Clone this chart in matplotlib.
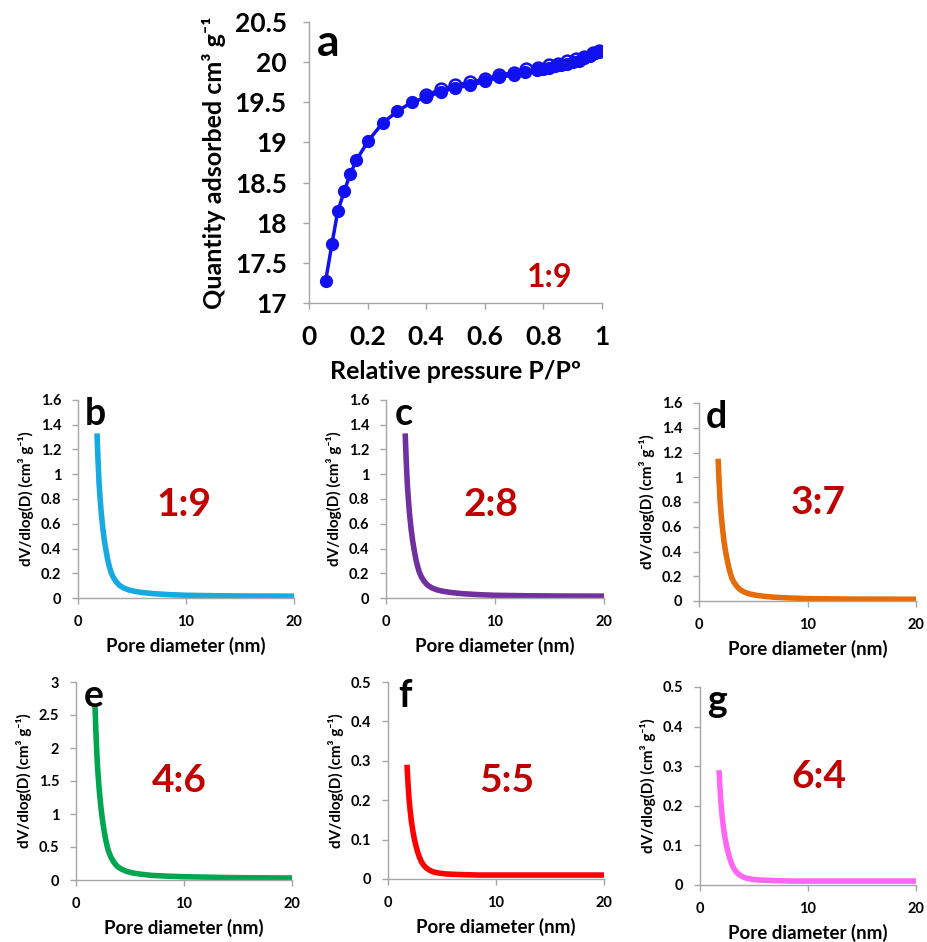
import matplotlib
matplotlib.use("Agg")
import matplotlib.pyplot as plt
from matplotlib.ticker import FuncFormatter

plt.rcParams['font.family'] = ['Lato', 'DejaVu Sans']
plt.rcParams['font.weight'] = 'bold'

W, H = 927, 942

# isotherm (panel a)
p_ads = [0.057, 0.078, 0.098, 0.121, 0.141, 0.162, 0.202, 0.251, 0.302, 0.351,
         0.399, 0.449, 0.499, 0.55, 0.6, 0.649, 0.698, 0.738, 0.778, 0.8,
         0.82, 0.84, 0.86, 0.88, 0.9, 0.92, 0.94, 0.96, 0.975, 0.989]
q_ads = [17.28, 17.73, 18.14, 18.40, 18.61, 18.78, 19.02, 19.24, 19.39, 19.50,
         19.56, 19.63, 19.68, 19.71, 19.76, 19.81, 19.84, 19.88, 19.90, 19.91,
         19.93, 19.95, 19.96, 19.98, 20.00, 20.02, 20.05, 20.08, 20.11, 20.13]
p_des = [0.40, 0.45, 0.50, 0.55, 0.60, 0.65, 0.70, 0.74, 0.78, 0.82,
         0.85, 0.88, 0.91, 0.94, 0.97, 0.989]
q_des = [19.59, 19.66, 19.71, 19.75, 19.79, 19.84, 19.87, 19.91, 19.93, 19.96,
         19.98, 20.01, 20.04, 20.07, 20.11, 20.14]

# pore size distributions (panels b-g)
diam = [1.76, 1.85, 1.95, 2.05, 2.15, 2.3, 2.45, 2.6, 2.75, 2.9, 3.05, 3.25,
        3.5, 3.8, 4.2, 4.7, 5.3, 6.0, 7.0, 8.5, 10.0, 13.0, 16.0, 20.0]
psd_b = [1.33, 1.12, 0.93, 0.80, 0.69, 0.56, 0.46, 0.38, 0.31, 0.255, 0.21, 0.17,
         0.135, 0.105, 0.082, 0.065, 0.053, 0.044, 0.035, 0.027, 0.022, 0.018, 0.016, 0.015]
psd_c = [1.33, 1.12, 0.93, 0.80, 0.69, 0.56, 0.46, 0.38, 0.31, 0.255, 0.21, 0.17,
         0.135, 0.105, 0.082, 0.065, 0.053, 0.044, 0.035, 0.027, 0.022, 0.018, 0.016, 0.015]
psd_d = [1.15, 0.97, 0.80, 0.69, 0.60, 0.485, 0.40, 0.33, 0.27, 0.22, 0.18, 0.147,
         0.117, 0.091, 0.071, 0.056, 0.046, 0.038, 0.030, 0.024, 0.019, 0.016, 0.015, 0.014]
psd_e = [2.63, 2.22, 1.84, 1.58, 1.37, 1.11, 0.91, 0.75, 0.61, 0.50, 0.42, 0.34,
         0.27, 0.21, 0.165, 0.13, 0.105, 0.088, 0.070, 0.058, 0.050, 0.040, 0.034, 0.030]
psd_f = [0.29, 0.244, 0.203, 0.174, 0.150, 0.122, 0.100, 0.083, 0.068, 0.056, 0.046, 0.037,
         0.029, 0.023, 0.018, 0.015, 0.013, 0.012, 0.011, 0.010, 0.010, 0.010, 0.010, 0.010]
psd_g = [0.29, 0.244, 0.203, 0.174, 0.150, 0.122, 0.100, 0.083, 0.068, 0.056, 0.046, 0.037,
         0.029, 0.023, 0.018, 0.015, 0.013, 0.012, 0.011, 0.010, 0.010, 0.010, 0.010, 0.010]

panels = [
    # letter, ratio, values, color, ymax, ystep, box (l, t, r, b), ratio pos
    ('b', '1:9', psd_b, '#17A9E1', 1.6, 0.2, (78, 400, 294, 598), (0.49, 0.47)),
    ('c', '2:8', psd_c, '#7030A0', 1.6, 0.2, (386, 400, 604, 598), (0.48, 0.47)),
    ('d', '3:7', psd_d, '#E46C0A', 1.6, 0.2, (699, 403, 916, 601), (0.55, 0.50)),
    ('e', '4:6', psd_e, '#00A64F', 3.0, 0.5, (76, 682, 292, 880), (0.48, 0.50)),
    ('f', '5:5', psd_f, '#FF0000', 0.5, 0.1, (388, 682, 604, 879), (0.55, 0.50)),
    ('g', '6:4', psd_g, '#FF66F2', 0.5, 0.1, (700, 687, 916, 885), (0.55, 0.55)),
]

RED = '#C00000'
AX_GRAY = '#A6A6A6'
fmt = FuncFormatter(lambda v, pos: '%g' % round(v, 3))


def add_box(fig, l, t, r, b):
    return fig.add_axes([l / W, 1 - b / H, (r - l) / W, (b - t) / H])


def style(ax, size, pad):
    for s in ['top', 'right']:
        ax.spines[s].set_visible(False)
    for s in ['left', 'bottom']:
        ax.spines[s].set_color(AX_GRAY)
        ax.spines[s].set_linewidth(1.0)
    ax.tick_params(direction='out', length=4, width=1, color=AX_GRAY,
                   labelsize=size, pad=pad)
    ax.xaxis.set_major_formatter(fmt)
    ax.yaxis.set_major_formatter(fmt)
    for lab in ax.get_xticklabels() + ax.get_yticklabels():
        lab.set_fontweight('bold')


fig = plt.figure(figsize=(W / 100, H / 100), dpi=100)

# panel a
ax = add_box(fig, 309, 22, 602, 303)
ax.plot(p_des, q_des, '-o', color='#1010F0', lw=2.5, ms=8.5,
        mfc='white', mec='#1010F0', mew=1.8)
ax.plot(p_ads, q_ads, '-o', color='#1010F0', lw=2.5, ms=8.5)
ax.set_xlim(0, 1)
ax.set_ylim(17, 20.5)
ax.set_xticks([0, 0.2, 0.4, 0.6, 0.8, 1.0])
ax.set_yticks([17, 17.5, 18, 18.5, 19, 19.5, 20, 20.5])
style(ax, 19, 12)
ax.set_xlabel('Relative pressure P/P\u00ba', fontsize=18, fontweight='bold', labelpad=8)
ax.set_ylabel('Quantity adsorbed cm\u00b3 g\u207b\u00b9', fontsize=18, fontweight='bold', labelpad=6)
ax.text(0.065, 0.925, 'a', transform=ax.transAxes, fontsize=32, fontweight='bold',
        ha='center', va='center')
ax.text(0.82, 0.09, '1:9', transform=ax.transAxes, fontsize=23, fontweight='bold',
        color=RED, ha='center', va='center')

for letter, ratio, vals, color, ymax, ystep, box, rpos in panels:
    ax = add_box(fig, *box)
    ax.plot(diam, vals, color=color, lw=4, solid_capstyle='butt', solid_joinstyle='round')
    ax.set_xlim(0, 20)
    ax.set_ylim(0, ymax)
    ax.set_xticks([0, 10, 20])
    n = int(round(ymax / ystep))
    ax.set_yticks([i * ystep for i in range(n + 1)])
    style(ax, 10.5, 8)
    ax.set_xlabel('Pore diameter (nm)', fontsize=13.5, fontweight='bold', labelpad=6)
    ax.set_ylabel('dV/dlog(D) (cm\u00b3 g\u207b\u00b9)', fontsize=11, fontweight='bold', labelpad=5)
    ax.text(0.08, 0.93, letter, transform=ax.transAxes, fontsize=27, fontweight='bold',
            ha='center', va='center')
    ax.text(rpos[0], rpos[1], ratio, transform=ax.transAxes, fontsize=28,
            fontweight='bold', color=RED, ha='center', va='center')

fig.savefig('out.png', dpi=100)
